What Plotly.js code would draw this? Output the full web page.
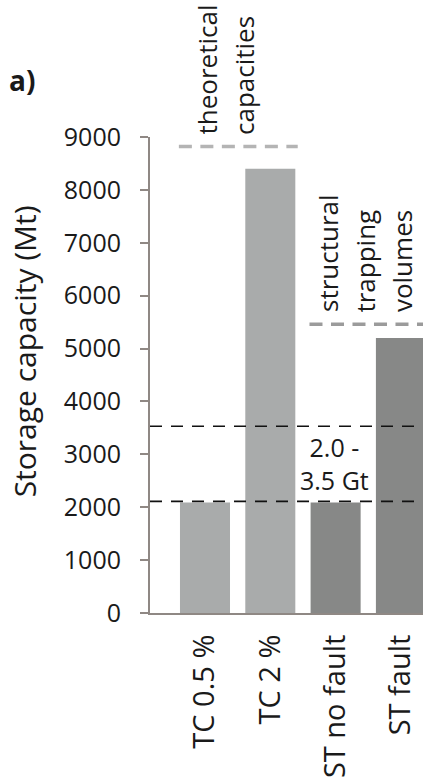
<!DOCTYPE html>
<html>
<head>
<meta charset="utf-8">
<script src="https://cdn.plot.ly/plotly-3.0.1.min.js"></script>
<style>
  html, body { margin: 0; padding: 0; background: #ffffff; }
  #chart { width: 423px; height: 779px; }
</style>
</head>
<body>
<div id="chart"></div>
<script>
// Storage capacity estimates (Mt) per method
const categories = ['TC 0.5 %', 'TC 2 %', 'ST no fault', 'ST fault'];
const capacityMt = [2090, 8400, 2090, 5200];
const barColors = ['#a9abab', '#a9abab', '#878887', '#878887'];

// Likely storage range shown by the two black dashed lines
const rangeBoundsMt = [2110, 3530];
const rangeLabel = ['2.0 -', '3.5 Gt'];

// Grouping brackets drawn as grey dashed lines above the bars
const groupFirst = [0, 2];
const groupLast = [1, 3];
const groupLevelMt = [8820, 5460];
const groupLines = [['theoretical', 'capacities'], ['structural', 'trapping', 'volumes']];

const yTicks = [0, 1000, 2000, 3000, 4000, 5000, 6000, 7000, 8000, 9000];

const FONT = '"Open Sans", "Noto Sans", sans-serif';
const INK = '#1a1a1a';
const AXIS = '#8f8884';
const groupColors = ['#b4b4b4', '#9b9b9b'];
const groupLabelX0 = [0.03, 1.88];   // first text column of each group (category units)
const lineStep = 0.567;              // spacing between rotated text columns

const shapes = [];
const annotations = [];

rangeBoundsMt.forEach(v => {
  shapes.push({
    type: 'line', xref: 'paper', yref: 'y', x0: 0, x1: 1, y0: v, y1: v,
    line: { color: '#111111', width: 1.6, dash: '12px,9px' }, layer: 'above'
  });
});

groupLevelMt.forEach((lvl, g) => {
  shapes.push({
    type: 'line', xref: 'x', yref: 'y',
    x0: groupFirst[g] - 0.4, x1: groupLast[g] + 0.42, y0: lvl, y1: lvl,
    line: { color: groupColors[g], width: 3.5, dash: '13px,8.5px' }, layer: 'above'
  });
  groupLines[g].forEach((txt, i) => {
    annotations.push({
      text: txt, xref: 'x', yref: 'y',
      x: groupLabelX0[g] + i * lineStep, y: lvl,
      xanchor: 'center', yanchor: 'bottom', yshift: 10,
      textangle: -90, showarrow: false,
      font: { family: FONT, size: 26, color: INK }
    });
  });
});

annotations.push({
  text: rangeLabel.join('<br>'), xref: 'x', yref: 'y',
  x: 2, y: (rangeBoundsMt[0] + rangeBoundsMt[1]) / 2, xshift: -1.5,
  xanchor: 'center', yanchor: 'middle', align: 'center', showarrow: false,
  font: { family: FONT, size: 25, color: INK }
});

annotations.push({
  text: 'Storage capacity (Mt)', xref: 'paper', yref: 'paper',
  x: -0.461, y: 0.55, xanchor: 'center', yanchor: 'middle',
  textangle: -90, showarrow: false,
  font: { family: FONT, size: 30, color: INK }
});

annotations.push({
  text: '<b>a)</b>', xref: 'paper', yref: 'paper',
  x: -0.414, y: 1.12, xanchor: 'right', yanchor: 'middle', showarrow: false,
  font: { family: FONT, size: 28, color: INK }
});

const trace = {
  type: 'bar',
  x: categories,
  y: capacityMt,
  marker: { color: barColors, line: { width: 0 } },
  hoverinfo: 'skip'
};

const layout = {
  width: 423, height: 779,
  margin: { l: 150, r: 0, t: 137, b: 166, pad: 0 },
  paper_bgcolor: '#ffffff', plot_bgcolor: '#ffffff',
  showlegend: false,
  bargap: 0.234,
  font: { family: FONT, color: INK },
  xaxis: {
    type: 'category',
    range: [-0.842, 3.338],
    showline: true, linecolor: AXIS, linewidth: 2,
    ticks: '', showgrid: false, zeroline: false,
    tickangle: -90,
    ticklabelstandoff: 8,
    tickfont: { family: FONT, size: 29, color: INK }
  },
  yaxis: {
    range: [0, 9000],
    tickvals: yTicks,
    ticktext: yTicks.map(String),
    showline: true, linecolor: AXIS, linewidth: 2,
    ticks: 'outside', ticklen: 8, tickwidth: 2, tickcolor: AXIS,
    ticklabelstandoff: 14,
    showgrid: false, zeroline: false,
    tickfont: { family: FONT, size: 25, color: INK }
  },
  shapes: shapes,
  annotations: annotations
};

Plotly.newPlot('chart', [trace], layout, { displayModeBar: false, staticPlot: true });
</script>
</body>
</html>
